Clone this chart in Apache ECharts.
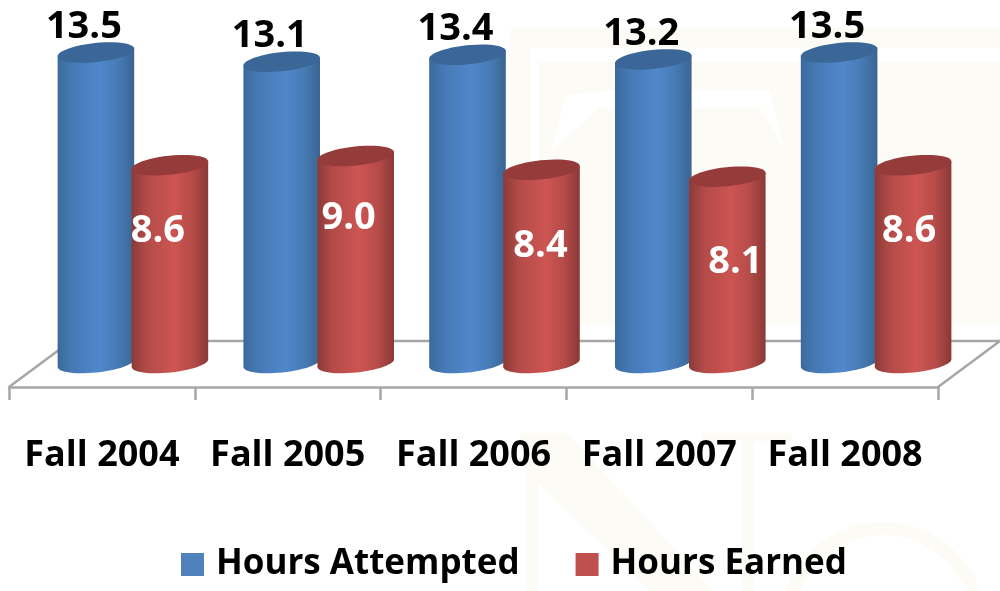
<!DOCTYPE html>
<html>
<head>
<meta charset="utf-8">
<style>
  html, body { margin: 0; padding: 0; background: #fff; }
  #main { width: 1000px; height: 591px; }
</style>
<script src="https://cdn.jsdelivr.net/npm/echarts@6/dist/echarts.min.js"></script>
</head>
<body>
<div id="main"></div>
<script>
var categories = ['Fall 2004', 'Fall 2005', 'Fall 2006', 'Fall 2007', 'Fall 2008']
var hoursAttempted = [13.5, 13.1, 13.4, 13.2, 13.5]
var hoursEarned = [8.6, 9.0, 8.4, 8.1, 8.6]

// labels in the picture were nudged by hand, one offset per bar
var attemptedLabelShift = [[-12, -25], [-12, -26], [-12, -26], [-12, -25], [-12, -25]]
var earnedLabelShift = [[-12, 66], [-7, 62], [-1, 76], [8, 85], [-4, 66]]

var FONT = '"Open Sans", sans-serif'
var RX = 38.5, RY = 9.5, TILT = -6 * Math.PI / 180

function ellipsePoint(cx, cy, t) {
  return [
    cx + RX * Math.cos(t) * Math.cos(TILT) - RY * Math.sin(t) * Math.sin(TILT),
    cy + RX * Math.cos(t) * Math.sin(TILT) + RY * Math.sin(t) * Math.cos(TILT)
  ]
}

function ellipsePoints(cx, cy, from, to, n) {
  var pts = []
  for (var i = 0; i <= n; i++) {
    pts.push(ellipsePoint(cx, cy, from + (to - from) * i / n))
  }
  return pts
}

function hGradient(colors) {
  var offsets = [0, 0.2, 0.55, 0.8, 1]
  return {
    type: 'linear', x: 0, y: 0, x2: 1, y2: 0,
    colorStops: colors.map(function (c, i) { return { offset: offsets[i], color: c } })
  }
}

function cylinder(opt) {
  return function (params, api) {
    var i = api.value(0)
    var val = api.value(1)
    var top = api.coord([i, val])
    var base = api.coord([i, 0])
    var cx = top[0] + opt.offset
    var body = ellipsePoints(cx, base[1], 0, Math.PI, 28)
    body.unshift(ellipsePoint(cx, top[1], 0))
    body.push(ellipsePoint(cx, top[1], Math.PI))
    var shift = opt.labelShift[i]
    return {
      type: 'group',
      children: [
        { type: 'polygon', shape: { points: body }, style: { fill: hGradient(opt.body) } },
        { type: 'polygon', shape: { points: ellipsePoints(cx, top[1], 0, Math.PI * 2, 48) }, style: { fill: opt.cap } },
        {
          type: 'text',
          z2: 10,
          style: {
            text: val.toFixed(1),
            x: cx + shift[0],
            y: top[1] + shift[1],
            fill: opt.labelColor,
            fontFamily: FONT,
            fontSize: 38,
            fontWeight: 'bold',
            align: 'center',
            verticalAlign: 'middle'
          }
        }
      ]
    }
  }
}

// faint watermark behind the plot
var BEIGE = '#fcfbf5'
var watermark = [
  { type: 'rect', shape: { x: 511, y: 28, width: 489, height: 312 }, style: { fill: BEIGE } },
  { type: 'rect', shape: { x: 531, y: 48, width: 469, height: 14 }, style: { fill: '#fff' } },
  { type: 'rect', shape: { x: 531, y: 48, width: 8, height: 277 }, style: { fill: '#fff' } },
  { type: 'rect', shape: { x: 531, y: 325, width: 469, height: 15 }, style: { fill: '#fff' } },
  { type: 'polygon', shape: { points: [[552, 150], [566, 95], [615, 90], [770, 90], [785, 150], [760, 108], [600, 108]] }, style: { fill: '#fff' } },
  { type: 'rect', shape: { x: 527, y: 433, width: 11, height: 158 }, style: { fill: BEIGE } },
  { type: 'polygon', shape: { points: [[520, 433], [567, 433], [713, 591], [650, 591], [538, 483], [520, 441]] }, style: { fill: BEIGE } },
  { type: 'rect', shape: { x: 742, y: 433, width: 11, height: 158 }, style: { fill: BEIGE } },
  { type: 'rect', shape: { x: 703, y: 433, width: 89, height: 8 }, style: { fill: BEIGE } },
  { type: 'ring', shape: { cx: 883, cy: 625, r: 103, r0: 90 }, style: { fill: BEIGE } }
]

var floor = {
  type: 'polyline',
  shape: { points: [[9, 387], [71, 341], [1000, 341]] },
  style: { stroke: '#a6a6a6', lineWidth: 2.5, fill: null }
}
var floorRight = {
  type: 'line',
  shape: { x1: 938, y1: 387, x2: 1000, y2: 341 },
  style: { stroke: '#a6a6a6', lineWidth: 2.5 }
}

var chart = echarts.init(document.getElementById('main'))
chart.setOption({
  backgroundColor: '#fff',
  animation: false,
  graphic: { elements: watermark.concat([floor, floorRight]).map(function (el) { el.silent = true; el.z = -10; return el }) },
  grid: { left: 9, right: 62, top: 18, bottom: 228 },
  legend: {
    left: 181,
    top: 547,
    padding: 0,
    itemWidth: 23,
    itemHeight: 23,
    itemGap: 56,
    icon: 'rect',
    textStyle: { fontFamily: FONT, fontSize: 35, fontWeight: 'bold', color: '#000', padding: [0, 0, 0, 7] },
    data: ['Hours Attempted', 'Hours Earned']
  },
  xAxis: {
    type: 'category',
    data: categories,
    offset: 24,
    axisLine: { onZero: false, lineStyle: { color: '#a6a6a6', width: 2.5 } },
    axisTick: { show: true, length: 13, lineStyle: { color: '#a6a6a6', width: 2.5 } },
    axisLabel: { fontFamily: FONT, fontSize: 36, fontWeight: 'bold', color: '#000', margin: 51, interval: 0 }
  },
  yAxis: { type: 'value', min: 0, max: 15, show: false },
  series: [
    {
      name: 'Hours Attempted',
      type: 'custom',
      clip: false,
      itemStyle: { color: '#4f81bd' },
      renderItem: cylinder({
        offset: -6,
        body: ['#3b6a9c', '#467ab6', '#5088cc', '#467ab4', '#3a6592'],
        cap: '#3a6797',
        labelColor: '#000',
        labelShift: attemptedLabelShift
      }),
      data: hoursAttempted.map(function (v, i) { return [i, v] })
    },
    {
      name: 'Hours Earned',
      type: 'custom',
      clip: false,
      itemStyle: { color: '#c0504d' },
      renderItem: cylinder({
        offset: 68,
        body: ['#8b3a38', '#b34b48', '#cd5552', '#b54b48', '#8a3836'],
        cap: '#953c3a',
        labelColor: '#fff',
        labelShift: earnedLabelShift
      }),
      data: hoursEarned.map(function (v, i) { return [i, v] })
    }
  ]
})
</script>
</body>
</html>
